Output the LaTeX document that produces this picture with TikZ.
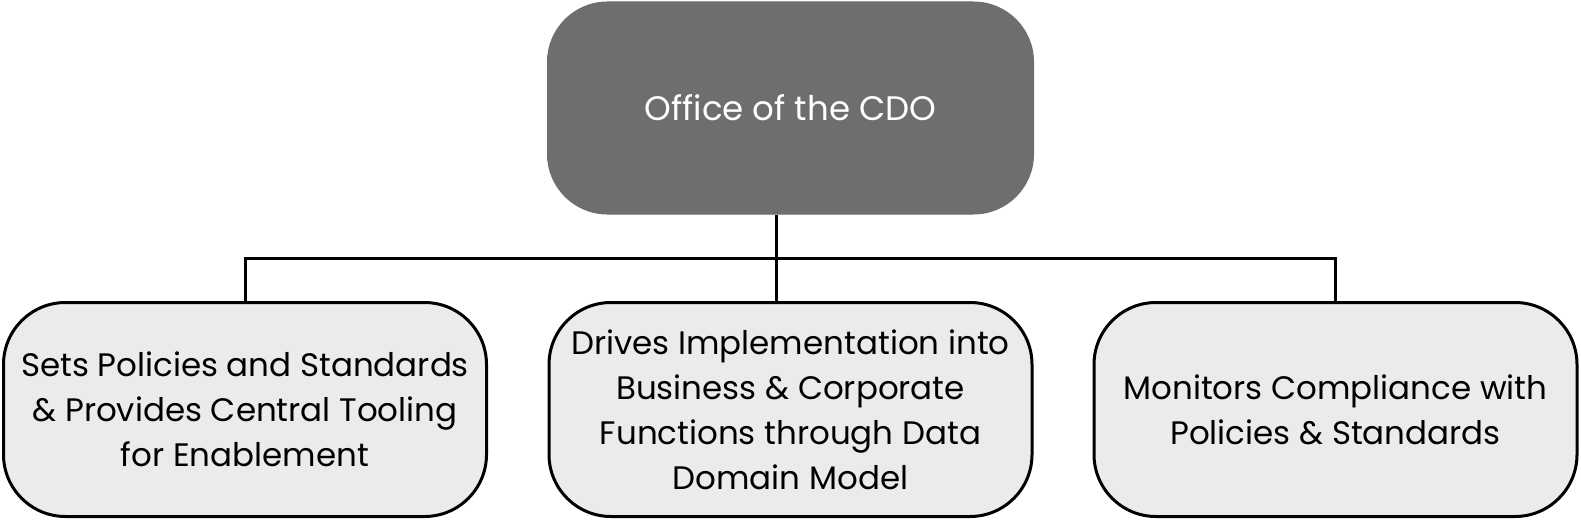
\documentclass[tikz,border=0pt]{standalone}
\usepackage{fontspec}
\setmainfont{Poppins}
\usetikzlibrary{positioning}
\definecolor{topgray}{HTML}{6E6E6E}
\definecolor{boxgray}{HTML}{EBEBEB}
\tikzset{
  topbox/.style={rounded corners=60pt, fill=topgray, draw=topgray, line width=1pt,
    minimum width=486pt, minimum height=212pt, text=white, align=center,
    font=\fontsize{34}{44}\selectfont, inner sep=0pt},
  subbox/.style={rounded corners=62pt, fill=boxgray, draw=black, line width=3pt,
    minimum width=483pt, minimum height=214pt, text=black, align=center,
    font=\fontsize{32.5}{45}\selectfont, inner sep=0pt},
  conn/.style={draw=black, line width=3pt}
}
\begin{document}
\begin{tikzpicture}[x=1pt,y=-1pt]
\useasboundingbox (0,0) rectangle (1581,519);
\node[topbox] (cdo) at (790.5,108) {Office of the CDO};
\node[subbox] (left) at (245,409.5) {Sets Policies and Standards\\\& Provides Central Tooling\\for Enablement};
\node[subbox] (mid) at (790.5,409.5) {Drives Implementation into\\Business \& Corporate\\Functions through Data\\Domain Model};
\node[subbox] (right) at (1335.5,409.5) {Monitors Compliance with\\Policies \& Standards};
\coordinate (j) at (776,258);
\draw[conn] (cdo.south -| j) -- (j);
\draw[conn] (left.north) |- (j) -| (right.north);
\draw[conn] (j) -- (mid.north -| j);
\end{tikzpicture}
\end{document}
